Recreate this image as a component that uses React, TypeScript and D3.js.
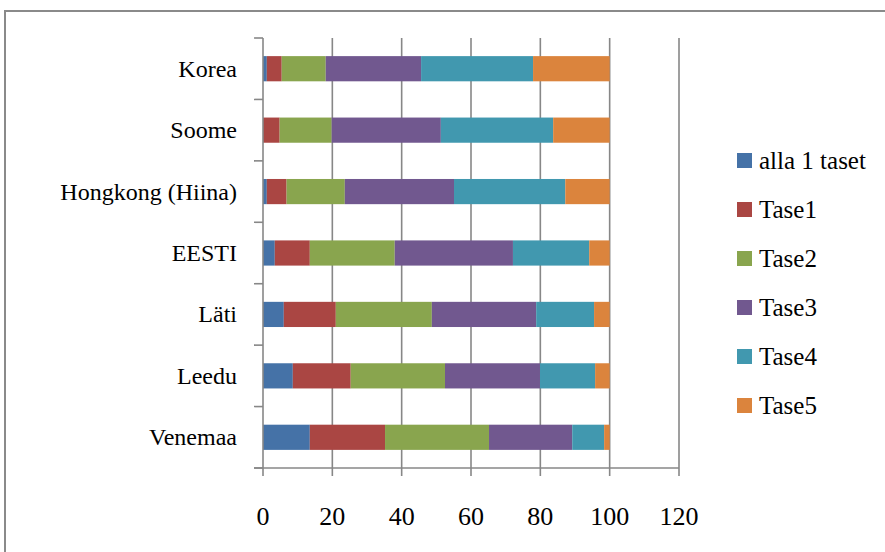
import React from "react";
import * as d3 from "d3";

// Countries, listed top to bottom
const countries = ["Korea", "Soome", "Hongkong (Hiina)", "EESTI", "Läti", "Leedu", "Venemaa"];

// Proficiency levels (legend order)
const levels = ["alla 1 taset", "Tase1", "Tase2", "Tase3", "Tase4", "Tase5"];

// Share of students per level (%), same order as countries
const below1 = [1.1, 0, 1.1, 3.4, 6.0, 8.6, 13.5];
const level1 = [4.3, 4.8, 5.7, 10.1, 15.0, 16.7, 21.7];
const level2 = [12.7, 15.0, 16.8, 24.5, 27.7, 27.2, 30.0];
const level3 = [27.5, 31.5, 31.5, 34.1, 30.1, 27.4, 24.0];
const level4 = [32.3, 32.4, 32.1, 22.0, 16.7, 15.9, 9.2];
const level5 = [22.1, 16.3, 12.8, 5.9, 4.5, 4.2, 1.6];

const xTicks = [0, 20, 40, 60, 80, 100, 120];

const colors = ["#4572A7", "#AA4643", "#89A54E", "#71588F", "#4198AF", "#DB843D"];

const W = 885;
const H = 552;
const font = "'Liberation Serif', 'Times New Roman', serif";

export default function App() {
  const series = [below1, level1, level2, level3, level4, level5];
  const rows = countries.map((c, i) => {
    const r: Record<string, any> = { country: c };
    levels.forEach((l, j) => (r[l] = series[j][i]));
    return r;
  });
  const stacked = d3.stack<any>().keys(levels)(rows);

  const x = d3.scaleLinear().domain([0, 120]).range([263, 679]);
  const y = d3.scaleBand<string>().domain(countries).range([38, 468]).paddingInner(0.59).paddingOuter(0.295);
  const step = y.step();
  const boundaries = d3.range(countries.length + 1).map((i) => 38 + i * step);
  const axisY = 468;
  const grid = "#878787";

  return (
    <svg width={W} height={H} style={{ position: "absolute", left: 0, top: 0, background: "#fff" }}>
      <rect x={5} y={11} width={W + 20} height={H + 20} fill="#fff" stroke="#8a8a8a" strokeWidth={2} />
      {/* vertical gridlines */}
      {xTicks.slice(1).map((t) => (
        <line key={"g" + t} x1={x(t)} x2={x(t)} y1={38} y2={axisY} stroke={grid} strokeWidth={1.6} />
      ))}
      {/* bars */}
      {stacked.map((s, j) => (
        <g key={levels[j]} fill={colors[j]}>
          {s.map((d, i) => (
            <rect
              key={countries[i]}
              x={x(d[0])}
              width={Math.max(0, x(d[1]) - x(d[0]))}
              y={y(countries[i])}
              height={y.bandwidth()}
            />
          ))}
        </g>
      ))}
      {/* category axis */}
      <line x1={263} x2={263} y1={38} y2={axisY} stroke={grid} strokeWidth={1.6} />
      {boundaries.map((b, i) => (
        <line key={"ct" + i} x1={254} x2={263} y1={b} y2={b} stroke={grid} strokeWidth={1.6} />
      ))}
      {countries.map((c) => (
        <text
          key={c}
          x={237}
          y={(y(c) as number) + y.bandwidth() / 2 + 8}
          textAnchor="end"
          fontFamily={font}
          fontSize={24}
          fill="#000"
        >
          {c}
        </text>
      ))}
      {/* value axis */}
      <line x1={254} x2={x(120)} y1={axisY} y2={axisY} stroke={grid} strokeWidth={1.6} />
      {xTicks.map((t) => (
        <g key={"xt" + t}>
          <line x1={x(t)} x2={x(t)} y1={axisY} y2={axisY + 8} stroke={grid} strokeWidth={1.6} />
          <text x={x(t)} y={525} textAnchor="middle" fontFamily={font} fontSize={26} fill="#000">
            {t}
          </text>
        </g>
      ))}
      {/* legend */}
      {levels.map((l, j) => {
        const cy = 160.5 + j * 49;
        return (
          <g key={"lg" + l}>
            <rect x={737} y={cy - 7.5} width={15} height={15} fill={colors[j]} />
            <text x={759} y={cy + 8} fontFamily={font} fontSize={25} fill="#000">
              {l}
            </text>
          </g>
        );
      })}
    </svg>
  );
}
